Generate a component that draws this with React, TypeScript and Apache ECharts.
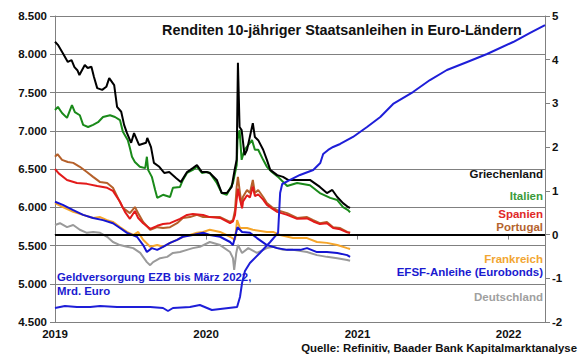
import React, { useEffect, useRef } from "react";
import * as echarts from "echarts";

type P = [string, number];

// Geldversorgung EZB (Mrd. Euro), left axis
const ecb: P[] = [
  ["2019-01-01", 4683], ["2019-01-25", 4709], ["2019-02-23", 4696], ["2019-03-27", 4696],
  ["2019-04-20", 4709], ["2019-05-31", 4696], ["2019-07-09", 4696], ["2019-08-19", 4696],
  ["2019-09-19", 4683], ["2019-10-01", 4644], ["2019-10-13", 4683], ["2019-11-23", 4696],
  ["2019-12-17", 4722], ["2020-01-15", 4657], ["2020-02-04", 4670], ["2020-03-16", 4696],
  ["2020-03-23", 4827], ["2020-03-28", 5010], ["2020-04-04", 5167], ["2020-04-16", 5272],
  ["2020-05-10", 5402], ["2020-06-04", 5546], ["2020-06-23", 5664], ["2020-06-28", 6187],
  ["2020-07-03", 6304], ["2020-07-22", 6357], ["2020-08-15", 6422], ["2020-09-16", 6487],
  ["2020-10-03", 6579], ["2020-10-10", 6696], ["2020-10-22", 6749], ["2020-11-03", 6788],
  ["2020-11-20", 6827], ["2020-12-21", 6919], ["2021-01-24", 7049], ["2021-02-25", 7180],
  ["2021-03-28", 7350], ["2021-05-15", 7506], ["2021-06-25", 7663], ["2021-08-05", 7794],
  ["2021-09-23", 7899], ["2021-11-10", 8003], ["2022-01-12", 8160], ["2022-02-22", 8278],
  ["2022-03-30", 8382],
];

// 10y yields (%), right axis
const greece: P[] = [
  ["2019-01-01", 4.41], ["2019-01-08", 4.34], ["2019-01-20", 4.15], ["2019-02-01", 3.95],
  ["2019-02-10", 3.99], ["2019-02-17", 3.83], ["2019-02-24", 3.76], ["2019-03-01", 3.65],
  ["2019-03-14", 3.88], ["2019-03-21", 3.81], ["2019-03-30", 3.84], ["2019-04-05", 3.61],
  ["2019-04-13", 3.35], ["2019-04-25", 3.31], ["2019-05-05", 3.38], ["2019-05-12", 3.58],
  ["2019-05-24", 3.42], ["2019-05-31", 2.92], ["2019-06-10", 2.81], ["2019-06-17", 2.51],
  ["2019-06-24", 2.32], ["2019-07-04", 2.10], ["2019-07-11", 2.32], ["2019-07-23", 2.05],
  ["2019-08-09", 2.10], ["2019-08-12", 2.21], ["2019-08-21", 2.00], ["2019-08-28", 1.64],
  ["2019-09-10", 1.55], ["2019-09-22", 1.41], ["2019-10-04", 1.43], ["2019-10-21", 1.29],
  ["2019-11-01", 1.20], ["2019-11-16", 1.43], ["2019-11-30", 1.52], ["2019-12-10", 1.59],
  ["2019-12-22", 1.43], ["2020-01-02", 1.43], ["2020-01-10", 1.41], ["2020-01-27", 1.25],
  ["2020-02-08", 0.95], ["2020-02-20", 0.95], ["2020-03-03", 1.09], ["2020-03-10", 1.48],
  ["2020-03-15", 1.71], ["2020-03-18", 3.93], ["2020-03-22", 2.46], ["2020-03-27", 2.39],
  ["2020-04-03", 1.82], ["2020-04-09", 1.94], ["2020-04-23", 2.55], ["2020-04-28", 2.23],
  ["2020-05-06", 2.16], ["2020-05-18", 1.94], ["2020-05-27", 1.71], ["2020-06-04", 1.48],
  ["2020-06-21", 1.36], ["2020-07-05", 1.32], ["2020-07-17", 1.25], ["2020-08-08", 1.25],
  ["2020-09-08", 1.25], ["2020-10-02", 1.09], ["2020-10-19", 0.95], ["2020-11-01", 1.02],
  ["2020-11-13", 0.86], ["2020-11-27", 0.72], ["2020-12-09", 0.63], ["2020-12-14", 0.61],
];

const italy: P[] = [
  ["2019-01-01", 2.85], ["2019-01-08", 2.92], ["2019-01-18", 2.78], ["2019-01-30", 2.67],
  ["2019-02-11", 2.96], ["2019-02-18", 2.80], ["2019-03-02", 2.73], ["2019-03-10", 2.51],
  ["2019-03-22", 2.46], ["2019-04-03", 2.51], ["2019-04-15", 2.57], ["2019-04-27", 2.69],
  ["2019-05-14", 2.73], ["2019-05-26", 2.69], ["2019-06-07", 2.62], ["2019-06-14", 2.35],
  ["2019-06-26", 2.16], ["2019-07-01", 1.98], ["2019-07-06", 1.78], ["2019-07-13", 1.66],
  ["2019-07-25", 1.55], ["2019-08-07", 1.52], ["2019-08-11", 1.78], ["2019-08-14", 1.48],
  ["2019-08-23", 1.32], ["2019-08-31", 1.02], ["2019-09-05", 0.84], ["2019-09-19", 0.91],
  ["2019-10-06", 0.86], ["2019-10-13", 1.07], ["2019-10-30", 1.09], ["2019-11-06", 1.25],
  ["2019-11-16", 1.41], ["2019-11-30", 1.48], ["2019-12-10", 1.55], ["2019-12-22", 1.41],
  ["2020-01-03", 1.43], ["2020-01-10", 1.41], ["2020-01-27", 1.18], ["2020-02-08", 0.95],
  ["2020-02-20", 0.91], ["2020-03-06", 1.18], ["2020-03-15", 1.59], ["2020-03-17", 2.16],
  ["2020-03-22", 2.39], ["2020-03-27", 1.71], ["2020-04-03", 1.94], ["2020-04-21", 2.16],
  ["2020-04-28", 1.94], ["2020-05-06", 1.94], ["2020-05-18", 1.71], ["2020-05-27", 1.55],
  ["2020-06-08", 1.43], ["2020-06-23", 1.32], ["2020-07-15", 1.11], ["2020-08-08", 1.18],
  ["2020-09-08", 1.13], ["2020-10-02", 0.95], ["2020-10-27", 0.84], ["2020-11-13", 0.79],
  ["2020-11-27", 0.63], ["2020-12-09", 0.56], ["2020-12-14", 0.51],
];

const spain: P[] = [
  ["2019-01-01", 1.50], ["2019-01-10", 1.40], ["2019-01-30", 1.25], ["2019-02-23", 1.18],
  ["2019-03-19", 1.16], ["2019-04-13", 1.11], ["2019-05-07", 1.07], ["2019-05-21", 1.00],
  ["2019-06-07", 0.75], ["2019-06-19", 0.52], ["2019-07-01", 0.36], ["2019-07-13", 0.54],
  ["2019-07-21", 0.38], ["2019-08-02", 0.26], ["2019-08-19", 0.13], ["2019-09-05", 0.20],
  ["2019-09-19", 0.24], ["2019-10-06", 0.26], ["2019-10-30", 0.36], ["2019-11-16", 0.45],
  ["2019-11-30", 0.47], ["2019-12-25", 0.45], ["2020-01-10", 0.40], ["2020-02-04", 0.38],
  ["2020-02-28", 0.26], ["2020-03-06", 0.30], ["2020-03-11", 0.45], ["2020-03-15", 0.80],
  ["2020-03-18", 1.05], ["2020-03-23", 0.80], ["2020-03-28", 0.60], ["2020-03-30", 0.75],
  ["2020-04-09", 0.90], ["2020-04-16", 0.85], ["2020-04-23", 1.10], ["2020-04-28", 0.88],
  ["2020-05-06", 0.92], ["2020-05-18", 0.80], ["2020-05-27", 0.68], ["2020-06-08", 0.60],
  ["2020-06-21", 0.52], ["2020-07-15", 0.45], ["2020-08-08", 0.36], ["2020-09-01", 0.37],
  ["2020-09-16", 0.30], ["2020-10-02", 0.24], ["2020-10-19", 0.26], ["2020-11-03", 0.15],
  ["2020-11-20", 0.12], ["2020-12-07", 0.05], ["2020-12-14", 0.04],
];

const portugal: P[] = [
  ["2019-01-01", 1.78], ["2019-01-07", 1.84], ["2019-01-18", 1.71], ["2019-02-01", 1.66],
  ["2019-02-14", 1.64], ["2019-03-02", 1.55], ["2019-03-19", 1.43], ["2019-04-03", 1.32],
  ["2019-04-20", 1.20], ["2019-05-07", 1.18], ["2019-05-21", 1.07], ["2019-06-02", 0.84],
  ["2019-06-14", 0.61], ["2019-07-01", 0.49], ["2019-07-13", 0.63], ["2019-07-21", 0.49],
  ["2019-08-02", 0.29], ["2019-08-19", 0.11], ["2019-09-05", 0.17], ["2019-09-19", 0.15],
  ["2019-10-06", 0.17], ["2019-10-23", 0.26], ["2019-11-06", 0.38], ["2019-11-23", 0.40],
  ["2019-12-10", 0.45], ["2019-12-25", 0.40], ["2020-01-10", 0.40], ["2020-02-04", 0.40],
  ["2020-02-28", 0.29], ["2020-03-06", 0.33], ["2020-03-11", 0.56], ["2020-03-15", 1.09],
  ["2020-03-18", 1.32], ["2020-03-23", 0.95], ["2020-03-28", 0.63], ["2020-03-30", 0.86],
  ["2020-04-09", 1.02], ["2020-04-16", 0.95], ["2020-04-23", 1.25], ["2020-04-28", 0.95],
  ["2020-05-06", 1.02], ["2020-05-18", 0.86], ["2020-05-27", 0.72], ["2020-06-08", 0.63],
  ["2020-06-21", 0.56], ["2020-07-15", 0.49], ["2020-08-08", 0.38], ["2020-09-01", 0.40],
  ["2020-09-16", 0.33], ["2020-10-02", 0.26], ["2020-10-19", 0.29], ["2020-11-03", 0.17],
  ["2020-11-20", 0.15], ["2020-12-07", 0.06], ["2020-12-14", 0.04],
];

const france: P[] = [
  ["2019-01-01", 0.72], ["2019-01-20", 0.63], ["2019-02-14", 0.52], ["2019-03-10", 0.45],
  ["2019-04-03", 0.38], ["2019-04-20", 0.40], ["2019-05-07", 0.33], ["2019-05-21", 0.29],
  ["2019-06-07", 0.17], ["2019-06-24", 0.06], ["2019-07-09", -0.01], ["2019-07-21", 0.06],
  ["2019-08-02", -0.12], ["2019-08-19", -0.28], ["2019-09-05", -0.24], ["2019-09-19", -0.28],
  ["2019-10-06", -0.19], ["2019-10-23", -0.12], ["2019-11-06", -0.05], ["2019-11-23", -0.01],
  ["2019-12-10", 0.04], ["2019-12-25", 0.06], ["2020-01-10", 0.11], ["2020-02-04", 0.06],
  ["2020-02-28", -0.05], ["2020-03-11", -0.12], ["2020-03-16", 0.33], ["2020-03-23", 0.15],
  ["2020-04-09", 0.15], ["2020-04-23", 0.11], ["2020-05-27", 0.06], ["2020-06-11", 0.06],
  ["2020-06-28", -0.01], ["2020-07-29", -0.08], ["2020-09-01", -0.08], ["2020-09-25", -0.17],
  ["2020-10-19", -0.19], ["2020-11-13", -0.24], ["2020-12-07", -0.31], ["2020-12-14", -0.33],
];

const efsf: P[] = [
  ["2019-01-01", 0.75], ["2019-01-20", 0.68], ["2019-02-14", 0.56], ["2019-03-10", 0.45],
  ["2019-04-03", 0.38], ["2019-04-27", 0.33], ["2019-05-21", 0.26], ["2019-06-07", 0.15],
  ["2019-06-24", 0.04], ["2019-07-18", -0.05], ["2019-08-02", -0.24], ["2019-08-11", -0.40],
  ["2019-08-23", -0.31], ["2019-09-05", -0.35], ["2019-09-19", -0.28], ["2019-10-06", -0.19],
  ["2019-10-23", -0.12], ["2019-11-06", -0.05], ["2019-11-30", -0.01], ["2019-12-25", 0.04],
  ["2020-01-10", -0.01], ["2020-02-04", -0.05], ["2020-02-28", -0.17], ["2020-03-06", -0.24],
  ["2020-03-17", 0.17], ["2020-03-28", 0.06], ["2020-04-16", 0.04], ["2020-05-03", -0.08],
  ["2020-05-27", -0.24], ["2020-06-21", -0.31], ["2020-07-15", -0.35], ["2020-08-16", -0.35],
  ["2020-09-01", -0.31], ["2020-09-25", -0.40], ["2020-10-19", -0.40], ["2020-11-13", -0.42],
  ["2020-12-07", -0.47], ["2020-12-14", -0.51],
];

const germany: P[] = [
  ["2019-01-01", 0.22], ["2019-01-13", 0.26], ["2019-01-30", 0.17], ["2019-02-14", 0.22],
  ["2019-03-02", 0.11], ["2019-03-19", 0.04], ["2019-04-03", 0.06], ["2019-04-20", 0.04],
  ["2019-05-07", -0.05], ["2019-05-21", -0.17], ["2019-06-07", -0.24], ["2019-06-24", -0.28],
  ["2019-07-09", -0.31], ["2019-07-26", -0.42], ["2019-08-11", -0.63], ["2019-08-19", -0.70],
  ["2019-08-26", -0.63], ["2019-09-12", -0.54], ["2019-09-29", -0.51], ["2019-10-13", -0.42],
  ["2019-10-30", -0.40], ["2019-11-16", -0.35], ["2019-11-30", -0.31], ["2019-12-17", -0.28],
  ["2020-01-10", -0.17], ["2020-02-04", -0.24], ["2020-02-28", -0.40], ["2020-03-06", -0.54],
  ["2020-03-09", -0.81], ["2020-03-14", -0.42], ["2020-03-18", -0.24], ["2020-03-28", -0.42],
  ["2020-04-12", -0.31], ["2020-05-03", -0.42], ["2020-05-27", -0.31], ["2020-06-11", -0.28],
  ["2020-07-05", -0.35], ["2020-07-29", -0.35], ["2020-09-01", -0.40], ["2020-09-25", -0.47],
  ["2020-10-19", -0.51], ["2020-11-13", -0.54], ["2020-12-07", -0.58], ["2020-12-14", -0.60],
];

const leftTicks = [4500, 5000, 5500, 6000, 6500, 7000, 7500, 8000, 8500];
const rightTicks = [-2, -1, 0, 1, 2, 3, 4, 5];

const FONT = '"Liberation Sans", Arial, Helvetica, sans-serif';
const C = {
  greece: "#000000",
  italy: "#1a8a1a",
  spain: "#e31a1a",
  portugal: "#b5602a",
  france: "#f5a52a",
  efsf: "#1414d2",
  germany: "#9a9a9a",
  ecb: "#1e1ed8",
  axis: "#808080",
};

export default function App() {
  const ref = useRef<HTMLDivElement>(null);
  useEffect(() => {
    document.body.style.margin = "0";
    const chart = echarts.init(ref.current!, null, { renderer: "svg" });
    const fmtThousands = (v: number) => String(v).replace(/\B(?=(\d{3})+(?!\d))/g, ".");
    const lineSeries = (name: string, data: P[], color: string, yAxisIndex: number, extra: any = {}) => ({
      name,
      type: "line",
      data,
      yAxisIndex,
      showSymbol: false,
      symbol: "none",
      lineStyle: { color, width: 2 },
      itemStyle: { color },
      ...extra,
    });
    const labelText = (text: string, y: number, fill: string) => ({
      type: "text",
      x: 543,
      y,
      style: { text, fill, font: `bold 11.5px ${FONT}`, textAlign: "right", textVerticalAlign: "middle" },
    });
    chart.setOption({
      animation: false,
      grid: { left: 55, right: 35, top: 16, bottom: 37 },
      xAxis: {
        type: "time",
        min: "2019-01-01",
        max: "2022-03-30",
        minInterval: 365 * 86400000,
        maxInterval: 366 * 86400000,
        axisLine: { show: true, lineStyle: { color: C.axis, width: 1 } },
        axisTick: { show: true, length: 5, lineStyle: { color: C.axis } },
        splitLine: { show: false },
        axisLabel: {
          color: "#111",
          fontFamily: FONT,
          fontWeight: "bold",
          fontSize: 11.5,
          margin: 6,
          formatter: (v: number) => String(new Date(v).getFullYear()),
        },
      },
      yAxis: [
        {
          type: "value",
          min: leftTicks[0],
          max: leftTicks[leftTicks.length - 1],
          interval: 500,
          position: "left",
          axisLine: { show: true, lineStyle: { color: C.axis } },
          axisTick: { show: true, length: 5, lineStyle: { color: C.axis } },
          splitLine: { show: true, lineStyle: { color: C.axis, width: 1 } },
          axisLabel: {
            color: "#111",
            fontFamily: FONT,
            fontWeight: "bold",
            fontSize: 11.5,
            margin: 8,
            formatter: (v: number) => fmtThousands(v),
          },
        },
        {
          type: "value",
          min: rightTicks[0],
          max: rightTicks[rightTicks.length - 1],
          interval: 1,
          position: "right",
          axisLine: { show: true, lineStyle: { color: C.axis } },
          axisTick: { show: true, length: 5, lineStyle: { color: C.axis } },
          splitLine: { show: false },
          axisLabel: {
            color: "#111",
            fontFamily: FONT,
            fontWeight: "bold",
            fontSize: 11.5,
            margin: 7,
          },
        },
      ],
      series: [
        lineSeries("Deutschland", germany, C.germany, 1),
        lineSeries("Frankreich", france, C.france, 1),
        lineSeries("EFSF-Anleihe (Eurobonds)", efsf, C.efsf, 1),
        lineSeries("Portugal", portugal, C.portugal, 1),
        lineSeries("Spanien", spain, C.spain, 1),
        lineSeries("Italien", italy, C.italy, 1),
        lineSeries("Griechenland", greece, C.greece, 1, {
          markLine: {
            silent: true,
            symbol: ["none", "none"],
            label: { show: false },
            lineStyle: { color: "#000", width: 2, type: "solid" },
            data: [{ yAxis: 0 }],
          },
        }),
        lineSeries("Geldversorgung EZB", ecb, C.ecb, 0),
      ],
      graphic: [
        {
          type: "text",
          x: 162,
          y: 30,
          style: {
            text: "Renditen 10-jähriger Staatsanleihen in Euro-Ländern",
            fill: "#111",
            font: `bold 14.4px ${FONT}`,
            textVerticalAlign: "middle",
          },
        },
        labelText("Griechenland", 174, "#111"),
        labelText("Italien", 196, "#3a9a3a"),
        labelText("Spanien", 214, "#e02828"),
        labelText("Portugal", 227, "#b5642e"),
        labelText("Frankreich", 259, "#f2a632"),
        labelText("EFSF-Anleihe (Eurobonds)", 272, "#1a1ad0"),
        labelText("Deutschland", 297, "#a0a0a0"),
        {
          type: "text",
          x: 57,
          y: 277,
          style: {
            text: "Geldversorgung EZB bis März 2022,",
            fill: "#1a1ad0",
            font: `bold 11.4px ${FONT}`,
            textVerticalAlign: "middle",
          },
        },
        {
          type: "text",
          x: 57,
          y: 291,
          style: { text: "Mrd. Euro", fill: "#1a1ad0", font: `bold 11.4px ${FONT}`, textVerticalAlign: "middle" },
        },
        {
          type: "text",
          x: 577,
          y: 348,
          style: {
            text: "Quelle: Refinitiv, Baader Bank Kapitalmarktanalyse",
            fill: "#111",
            font: `bold 11.4px ${FONT}`,
            textAlign: "right",
            textVerticalAlign: "middle",
          },
        },
      ],
    });
    return () => chart.dispose();
  }, []);
  return <div ref={ref} style={{ width: 580, height: 359 }} />;
}
